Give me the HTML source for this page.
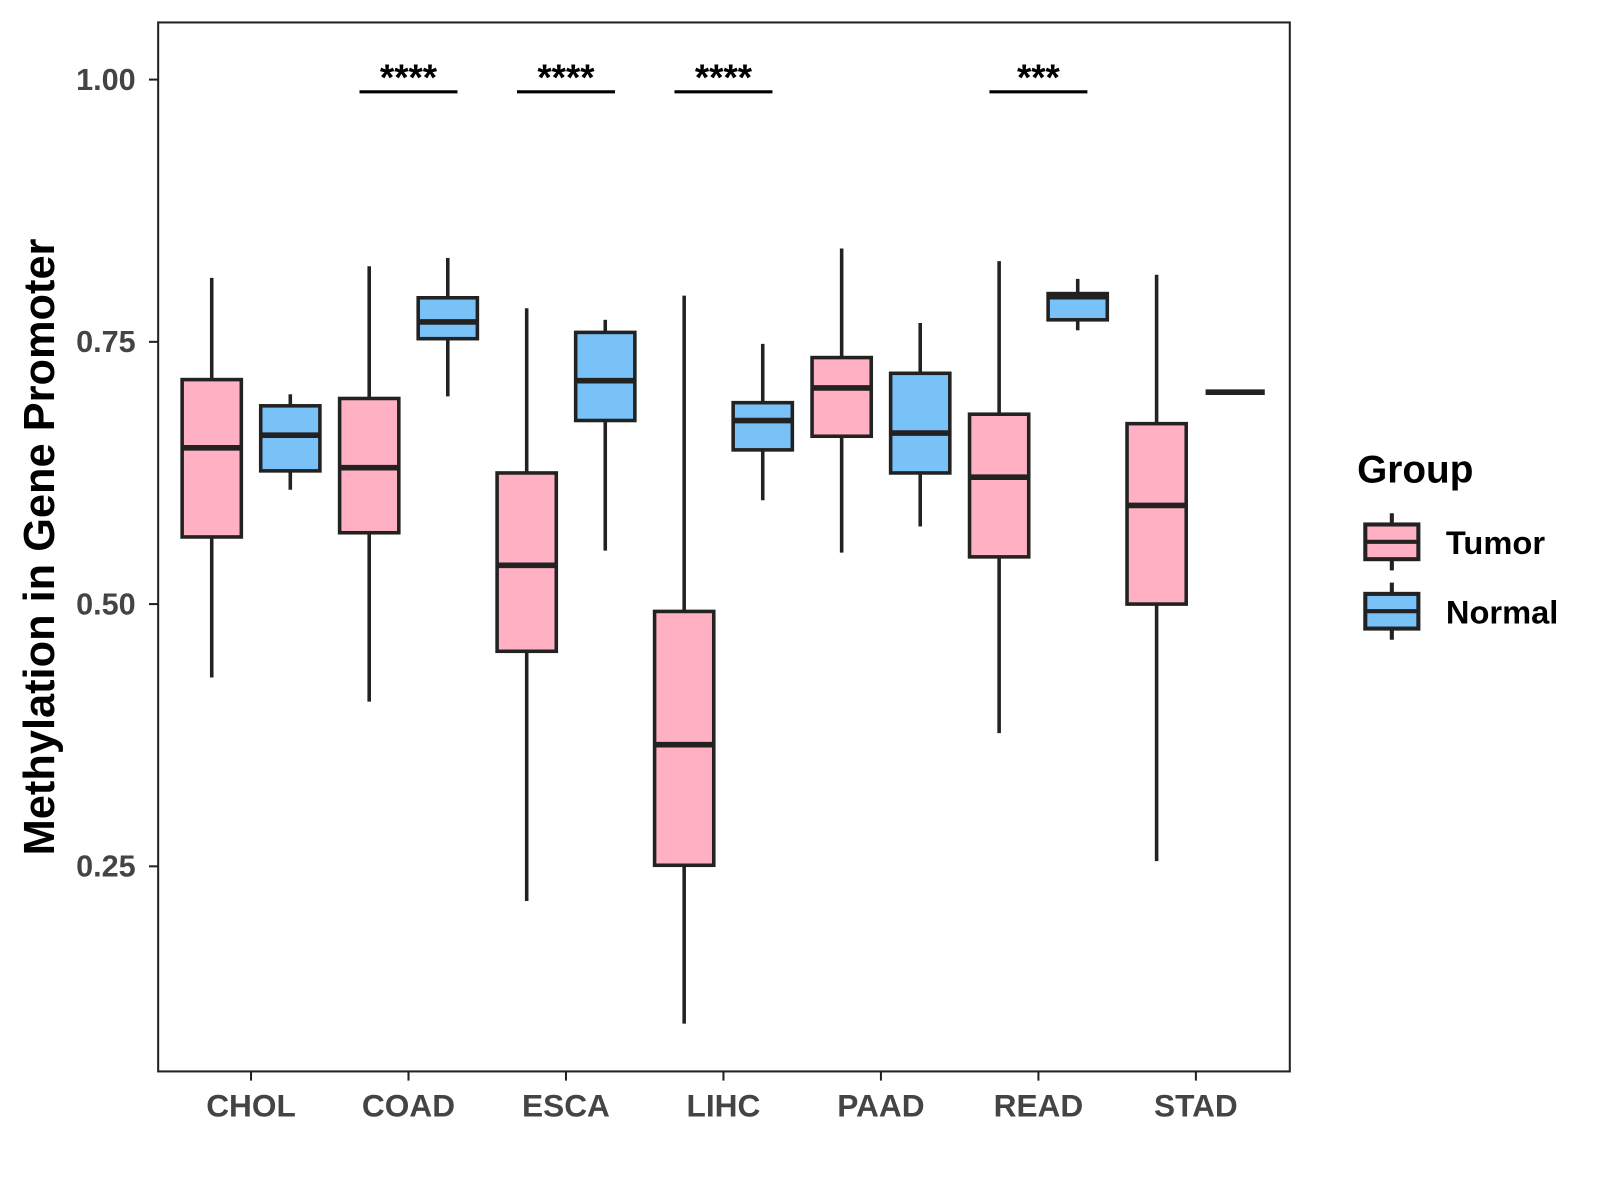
<!DOCTYPE html>
<html><head><meta charset="utf-8"><style>
html,body{margin:0;padding:0;background:#fff;}
svg{display:block;font-family:"Liberation Sans",Arial,sans-serif;font-weight:bold;}
</style></head><body>
<svg id="chart" width="1600" height="1200" viewBox="0 0 1568 1176">
<rect x="155" y="22" width="1109" height="1028" fill="#fff" stroke="#222" stroke-width="2"/>
<g id="marks"></g>
<g id="axes"></g>
<text transform="translate(53,536) rotate(-90)" text-anchor="middle" font-size="42.5" fill="#000">Methylation in Gene Promoter</text>
<g>
<text x="1330" y="473" font-size="38" fill="#000">Group</text>
<g>
<line x1="1364" y1="503" x2="1364" y2="559" stroke="#222" stroke-width="4"/>
<rect x="1338" y="514" width="52" height="34" fill="#FFB0C2" stroke="#222" stroke-width="4"/>
<line x1="1338" y1="531" x2="1390" y2="531" stroke="#222" stroke-width="4"/>
<text x="1417" y="543" font-size="32" fill="#000">Tumor</text>
</g>
<g>
<line x1="1364" y1="571" x2="1364" y2="627" stroke="#222" stroke-width="4"/>
<rect x="1338" y="582" width="52" height="34" fill="#78C2F8" stroke="#222" stroke-width="4"/>
<line x1="1338" y1="599" x2="1390" y2="599" stroke="#222" stroke-width="4"/>
<text x="1417" y="611" font-size="32" fill="#000">Normal</text>
</g>
</g>
</svg>
<script>
const categories = ["CHOL","COAD","ESCA","LIHC","PAAD","READ","STAD"];
// [low, q1, median, q3, high]
const tumorStats = [
 [0.430,0.564,0.649,0.714,0.811],
 [0.407,0.568,0.630,0.696,0.822],
 [0.217,0.455,0.537,0.625,0.782],
 [0.100,0.251,0.366,0.493,0.794],
 [0.549,0.660,0.706,0.735,0.839],
 [0.377,0.545,0.621,0.681,0.827],
 [0.255,0.500,0.594,0.672,0.814]
];
const normalStats = [
 [0.609,0.627,0.661,0.689,0.700],
 [0.698,0.753,0.769,0.792,0.830],
 [0.551,0.675,0.713,0.759,0.771],
 [0.599,0.647,0.675,0.692,0.748],
 [0.574,0.625,0.663,0.720,0.768],
 [0.761,0.771,0.793,0.796,0.810],
 [0.702,0.702,0.702,0.702,0.702]
];
const signifLabels = ["","****","****","****","","***",""];
const yTicks = [0.25,0.50,0.75,1.00];
const yTickLabels = ["0.25","0.50","0.75","1.00"];

const NS="http://www.w3.org/2000/svg";
function y(v){return 78+(1-v)*1028;}
function x(i){return 246+i*154.33;}
function el(tag,attrs,parent){const e=document.createElementNS(NS,tag);for(const k in attrs)e.setAttribute(k,attrs[k]);parent.appendChild(e);return e;}
const marks=document.getElementById('marks'), axes=document.getElementById('axes');
function box(cx,s,fill,name){
  const g=el('g',{},marks);
  
  
  const w=29;
  el('line',{x1:cx,x2:cx,y1:y(s[4]),y2:y(s[3]),stroke:'#222','stroke-width':3.5},g);
  el('line',{x1:cx,x2:cx,y1:y(s[1]),y2:y(s[0]),stroke:'#222','stroke-width':3.5},g);
  el('rect',{x:cx-w,y:y(s[3]),width:2*w,height:Math.max(0,y(s[1])-y(s[3])),fill:fill,stroke:'#222','stroke-width':3.5},g);
  el('line',{x1:cx-w,x2:cx+w,y1:y(s[2]),y2:y(s[2]),stroke:'#222','stroke-width':5.5},g);
}
categories.forEach((c,i)=>{
  box(x(i)-38.5,tumorStats[i],'#FFB0C2','box-tumor-'+c.toLowerCase());
  box(x(i)+38.5,normalStats[i],'#78C2F8','box-normal-'+c.toLowerCase());
  el('line',{x1:x(i),x2:x(i),y1:1050,y2:1059,stroke:'#222','stroke-width':2},axes);
  const t=el('text',{x:x(i),y:1094,'text-anchor':'middle','font-size':31,fill:'#444'},axes);
  
  
  t.textContent=c;
  if(signifLabels[i]){
    el('line',{x1:x(i)-48,x2:x(i)+48,y1:90,y2:90,stroke:'#000','stroke-width':3},marks);
    const s=el('text',{x:x(i),y:88,'text-anchor':'middle','font-size':36,fill:'#000'},marks);
    
    
    s.textContent=signifLabels[i];
  }
});
yTicks.forEach((v,i)=>{
  el('line',{x1:146,x2:155,y1:y(v),y2:y(v),stroke:'#222','stroke-width':2},axes);
  const t=el('text',{x:133,y:y(v)+10,'text-anchor':'end','font-size':30,fill:'#444'},axes);
  
  
  t.textContent=yTickLabels[i];
});
</script>
</body></html>
